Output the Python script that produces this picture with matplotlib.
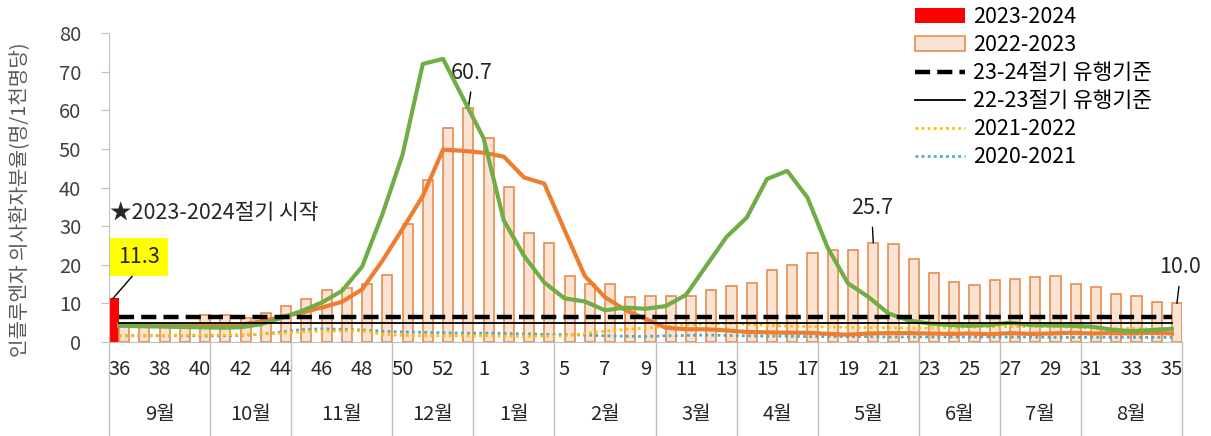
import matplotlib
matplotlib.use("Agg")
import matplotlib.pyplot as plt
from matplotlib.patches import Patch
from matplotlib.lines import Line2D
import numpy as np

plt.rcParams["font.family"] = ["Noto Sans CJK KR", "DejaVu Sans"]

# 주차 (36주 ~ 53주, 1주 ~ 35주)
weeks = list(range(36, 54)) + list(range(1, 36))
months = ["9월", "10월", "11월", "12월", "1월", "2월", "3월", "4월", "5월", "6월", "7월", "8월"]
month_sizes = [5, 4, 5, 4, 4, 5, 4, 4, 5, 4, 4, 5]

s2324 = [11.3]
s2223 = [4.2, 4.0, 4.1, 4.5, 6.9, 6.9, 6.1, 7.5, 9.3, 11.2, 13.4, 14.0, 15.1, 17.4,
         30.5, 41.9, 55.5, 60.7, 52.7, 40.2, 28.3, 25.7, 17.1, 15.1, 14.9, 11.7, 11.9,
         11.9, 11.9, 13.4, 14.5, 15.2, 18.7, 19.9, 23.1, 23.7, 23.7, 25.7, 25.4, 21.5,
         17.8, 15.5, 14.8, 16.0, 16.2, 16.8, 17.2, 14.9, 14.2, 12.4, 12.0, 10.4, 10.0]
green = [4.2, 4.1, 4.0, 3.9, 3.8, 3.7, 3.8, 4.6, 6.2, 8.0, 10.2, 13.2, 19.5, 33.0,
         48.5, 72.0, 73.3, 63.0, 52.8, 31.5, 22.3, 15.4, 11.3, 10.5, 8.2, 8.9, 8.6,
         9.3, 12.2, 19.7, 27.2, 32.2, 42.2, 44.3, 37.4, 24.4, 15.2, 11.7, 7.4, 5.6,
         4.8, 4.4, 4.2, 4.4, 5.0, 4.4, 4.3, 4.2, 4.0, 3.2, 2.8, 3.1, 3.4]
orange = [4.6, 4.6, 4.5, 4.4, 4.4, 4.3, 4.5, 5.3, 6.5, 7.6, 8.9, 10.4, 13.6, 21.0,
          29.3, 37.8, 49.8, 49.5, 49.0, 48.0, 42.6, 41.0, 29.0, 17.1, 11.6, 8.3, 6.0,
          3.7, 3.3, 3.3, 3.0, 2.6, 2.5, 2.4, 2.4, 2.1, 1.9, 2.2, 2.3, 2.3, 2.2, 2.1,
          2.2, 2.0, 2.3, 2.1, 2.2, 2.4, 2.2, 2.3, 2.2, 2.4, 2.2]
s2122 = [1.6, 1.6, 1.7, 1.7, 1.8, 1.8, 1.9, 2.0, 2.3, 2.6, 2.8, 2.9, 2.9, 2.0, 1.7,
         1.6, 1.6, 1.6, 1.6, 1.5, 1.5, 1.5, 1.6, 2.2, 2.8, 3.3, 3.6, 4.0, 4.4, 4.7,
         4.8, 4.6, 4.3, 4.1, 4.0, 3.9, 3.8, 3.7, 3.7, 3.6, 3.6, 3.7, 3.8, 3.9, 4.0,
         4.0, 3.9, 3.8, 3.6, 3.5, 3.5, 3.4, 3.4]
s2021 = [1.6, 1.6, 1.6, 1.6, 1.6, 1.6, 1.7, 2.0, 2.6, 3.2, 3.4, 3.3, 3.1, 2.8, 2.6,
         2.5, 2.4, 2.3, 2.3, 2.2, 2.1, 2.0, 1.9, 1.8, 1.6, 1.5, 1.4, 1.6, 1.7, 1.8,
         1.7, 1.6, 1.5, 1.5, 1.4, 1.4, 1.4, 1.4, 1.3, 1.3, 1.3, 1.3, 1.3, 1.3, 1.3,
         1.3, 1.2, 1.2, 1.2, 1.2, 1.2, 1.2, 1.2]
th2324 = 6.5
th2223 = 4.9

FS = 15.5
TS = 14.5
x = np.arange(len(weeks))

fig = plt.figure(figsize=(12.11, 4.36), dpi=100)
ax = fig.add_axes([109 / 1211, 1 - 342 / 436, 1073 / 1211, 309 / 436])

ax.bar(x[:1] - 0.25, s2324, width=0.5, color="#FF0000", zorder=1)
ax.bar(x + 0.25, s2223, width=0.5, facecolor="#FBE3D3", edgecolor="#E58C52",
       linewidth=1.2, zorder=1)

ax.plot(x, s2021, color="#4BACC6", lw=2, ls=(0, (1, 1.2)), zorder=2)
ax.plot(x, s2122, color="#FFC000", lw=2, ls=(0, (1, 1.2)), zorder=2)
ax.plot(x, orange, color="#ED7D31", lw=3, zorder=3, solid_joinstyle="round")
ax.plot(x, green, color="#70AD47", lw=3, zorder=4, solid_joinstyle="round")
ax.plot([x[0], x[-1]], [th2223, th2223], color="black", lw=1.3, zorder=5)
ax.plot([x[0], x[-1]], [th2324, th2324], color="black", lw=3.2,
        ls=(0, (3.4, 1.6)), zorder=6)

ax.set_xlim(-0.5, len(weeks) - 0.5)
ax.set_ylim(0, 80)
ax.set_yticks(range(0, 81, 10))
ax.set_xticks([])
for s in ["top", "right"]:
    ax.spines[s].set_visible(False)
for s in ["left", "bottom"]:
    ax.spines[s].set_color("#BFBFBF")
ax.tick_params(axis="y", direction="out", length=6, color="#BFBFBF", pad=14,
               labelsize=TS, labelcolor="#404040")
ax.set_ylabel("인플루엔자 의사환자분율(명/1천명당)", fontsize=14.5, color="#595959")
ax.yaxis.set_label_coords(-0.0735, 0.46)

# 범주 축 (주차 / 월)
xt = ax.get_xaxis_transform()
ax.plot([0, 0], [0, -0.31], transform=ax.transAxes, color="#BFBFBF", lw=1, clip_on=False)
for i, w in enumerate(weeks):
    if i % 2 == 0:
        ax.text(i, -0.09, str(w), transform=xt, ha="center", va="center",
                fontsize=TS, color="#262626")
start = 0
for m, n in zip(months, month_sizes):
    end = start + n
    ax.plot([end - 0.5, end - 0.5], [0, -0.31], transform=xt, color="#BFBFBF",
            lw=1, clip_on=False)
    ax.text((start + end - 1) / 2, -0.236, m, transform=xt, ha="center",
            va="center", fontsize=TS, color="#262626")
    start = end

# 주석
ax.text(-0.45, 33.5, "★2023-2024절기 시작", ha="left", va="center", fontsize=FS,
        color="#262626")
ax.annotate("11.3", xy=(-0.3, s2324[0]), xytext=(1.0, 22.0), ha="center", va="center",
            fontsize=FS, color="#262626",
            bbox=dict(boxstyle="square,pad=0.38", fc="#FFFF00", ec="none"),
            arrowprops=dict(arrowstyle="-", color="black", lw=1, relpos=(0.5, 0),
                            shrinkA=0, shrinkB=0))
for idx, tx, ty in [(17, 17.43, 69.7), (37, 37.19, 34.7), (52, 52.4, 19.4)]:
    ax.annotate(f"{s2223[idx]:.1f}", xy=(idx + 0.25, s2223[idx]), xytext=(tx, ty),
                ha="center", va="center", fontsize=FS, color="#262626",
                annotation_clip=False,
                arrowprops=dict(arrowstyle="-", color="black", lw=1, relpos=(0.5, 0),
                                shrinkA=4, shrinkB=0))

handles = [
    Patch(facecolor="#FF0000", edgecolor="none"),
    Patch(facecolor="#FBE3D3", edgecolor="#E58C52", linewidth=1.2),
    Line2D([], [], color="black", lw=3.2, ls=(0, (3.4, 1.6))),
    Line2D([], [], color="black", lw=1.3),
    Line2D([], [], color="#FFC000", lw=2, ls=(0, (1, 1.2))),
    Line2D([], [], color="#4BACC6", lw=2, ls=(0, (1, 1.2))),
]
labels = ["2023-2024", "2022-2023", "23-24절기 유행기준", "22-23절기 유행기준",
          "2021-2022", "2020-2021"]
ax.legend(handles, labels, loc="upper left", bbox_to_anchor=(913 / 1211, 1 - 4 / 436),
          bbox_transform=fig.transFigure, frameon=False, fontsize=FS,
          handlelength=2.3, handletextpad=0.37, labelspacing=0.28,
          borderaxespad=0.1, borderpad=0)

fig.savefig("out.png", dpi=100)
